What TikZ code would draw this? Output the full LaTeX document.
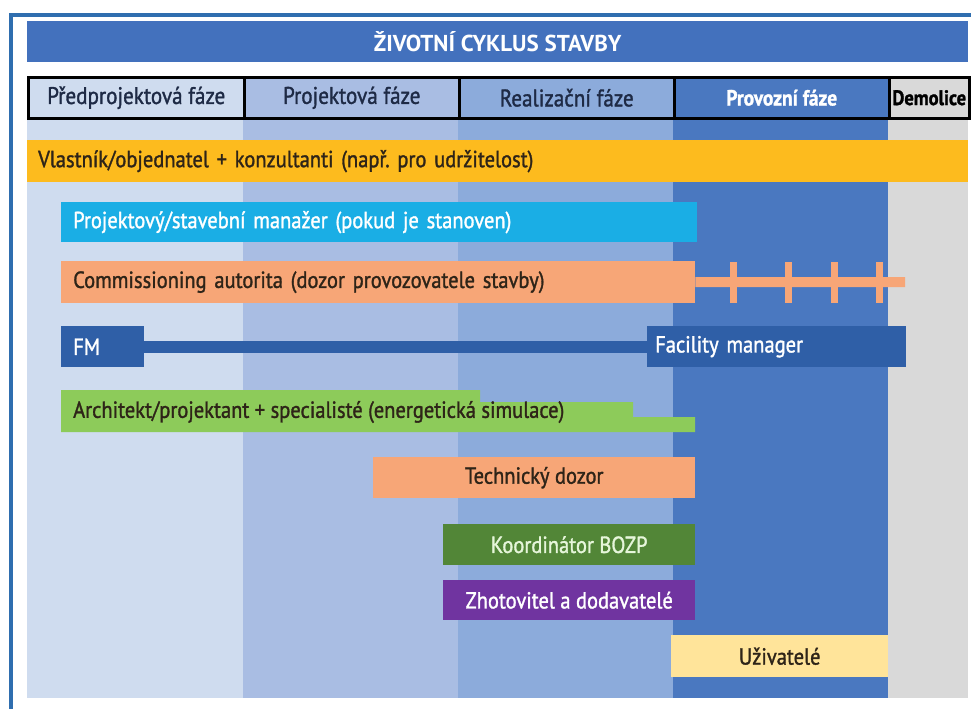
\documentclass[tikz,border=0pt]{standalone}
\usepackage{fontspec}
\setmainfont{PT Sans}[FakeStretch=0.88, FakeBold=1.3]
\newfontfamily\titlefont{PT Sans}[FakeStretch=1.0]
\definecolor{framec}{HTML}{2F6EAF}
\definecolor{titlec}{HTML}{4371BD}
\definecolor{cA}{HTML}{CFDCEF}
\definecolor{cB}{HTML}{A9BDE3}
\definecolor{cC}{HTML}{8CABDB}
\definecolor{cD}{HTML}{4A78C0}
\definecolor{cE}{HTML}{D9D9D9}
\definecolor{hdrtext}{HTML}{1E2A45}
\definecolor{yellowc}{HTML}{FDBB1E}
\definecolor{cyanc}{HTML}{1AAEE5}
\definecolor{salmonc}{HTML}{F7A677}
\definecolor{fmc}{HTML}{2F5FA7}
\definecolor{greenc}{HTML}{8DCB5A}
\definecolor{dgreenc}{HTML}{528637}
\definecolor{purplec}{HTML}{7034A0}
\definecolor{lyellowc}{HTML}{FFE49A}
\definecolor{darktext}{HTML}{2E2418}
\definecolor{minttext}{HTML}{E6F6DA}
\begin{document}
\frenchspacing
\begin{tikzpicture}[x=1pt,y=-1pt,
  cell/.style={draw=black, line width=2.5pt, minimum height=41pt, inner sep=0pt,
    anchor=north west, font=\fontsize{24}{26}\selectfont, text=hdrtext},
  lbar/.style={inner xsep=0pt, inner ysep=0pt, anchor=north west, align=left,
    font=\fontsize{23.3}{25}\selectfont, text=darktext},
  cbar/.style={inner sep=0pt, anchor=north west,
    font=\fontsize{23.3}{25}\selectfont, text=darktext},
  tickbox/.style={fill=salmonc, inner sep=0pt, minimum width=7pt, minimum height=41pt},
  caline/.style={draw=salmonc, line width=10pt},
  fmline/.style={draw=fmc, line width=12pt}
]
\useasboundingbox (0,0) rectangle (971,709);
\fill[white] (0,0) rectangle (971,709);
% frame
\draw[framec, line width=3.5pt] (11,709) -- (11,15) -- (971,15);
% column backgrounds
\fill[cA] (27,117) rectangle (243,698);
\fill[cB] (243,117) rectangle (458,698);
\fill[cC] (458,117) rectangle (673,698);
\fill[cD] (673,117) rectangle (888,698);
\fill[cE] (888,117) rectangle (968,698);
% title
\node[fill=titlec, inner sep=0pt, minimum width=941pt, minimum height=41pt, anchor=north west,
  text=white, font=\titlefont\bfseries\fontsize{23}{25}\selectfont] (title) at (27,21) {ŽIVOTNÍ CYKLUS STAVBY};
% phase header
\node[cell, fill=cA, minimum width=216pt] (p1) at (27,76) {Předprojektová fáze};
\node[cell, fill=cB, minimum width=215pt] (p2) at (243,76) {Projektová fáze};
\node[cell, fill=cC, minimum width=215pt] (p3) at (458,76) {Realizační fáze};
\node[cell, fill=cD, minimum width=215pt, text=white, font=\bfseries\fontsize{22}{26}\selectfont] (p4) at (673,76) {Provozní fáze};
\node[cell, fill=cE, minimum width=80pt, text=black, font=\bfseries\fontsize{21}{24}\selectfont] (p5) at (888,76) {Demolice};
% bars
\node[lbar, fill=yellowc, text width=941pt, minimum height=42pt] (own) at (27,140)
  {\hspace*{11pt}Vlastník/objednatel + konzultanti (např. pro udržitelost)};
\node[lbar, fill=cyanc, text width=636pt, minimum height=40pt, text=white] (pm) at (61,202)
  {\hspace*{12pt}Projektový/stavební manažer (pokud je stanoven)};
\node[lbar, fill=salmonc, text width=634pt, minimum height=42pt] (ca) at (61,261)
  {\hspace*{12pt}Commissioning autorita (dozor provozovatele stavby)};
\coordinate (caend) at (905,282);
\draw[caline] (ca.east) -- (caend);
\node[tickbox] (t1) at (733,282.5) {};
\node[tickbox] (t2) at (788,282.5) {};
\node[tickbox] (t3) at (834,282.5) {};
\node[tickbox] (t4) at (879,282.5) {};
% FM
\node[lbar, fill=fmc, text width=83pt, minimum height=41pt, text=white] (fm) at (61,326)
  {\hspace*{12pt}FM};
\node[lbar, fill=fmc, text width=259pt, minimum height=41pt, text=white] (fac) at (647,326)
  {\hspace*{8pt}Facility manager};
\draw[fmline] (fm.east) -- (fac.west);
% architect
\fill[greenc] (61,390) -- (480,390) -- (480,402) -- (633,402) -- (633,417) -- (695,417)
  -- (695,432) -- (61,432) -- cycle;
\node[inner sep=0pt, anchor=west, font=\fontsize{23.3}{25}\selectfont, text=darktext] (arch) at (73,412)
  {Architekt/projektant + specialisté (energetická simulace)};
% lower bars
\node[cbar, fill=salmonc, minimum width=322pt, minimum height=41pt] (td) at (373,457) {Technický dozor};
\node[cbar, fill=dgreenc, minimum width=252pt, minimum height=41pt, text=minttext] (bozp) at (443,524) {Koordinátor BOZP};
\node[cbar, fill=purplec, minimum width=252pt, minimum height=40pt, text=white] (zh) at (443,580) {Zhotovitel a dodavatelé};
\node[cbar, fill=lyellowc, minimum width=217pt, minimum height=42pt] (uz) at (671,635) {Uživatelé};
\end{tikzpicture}
\end{document}
